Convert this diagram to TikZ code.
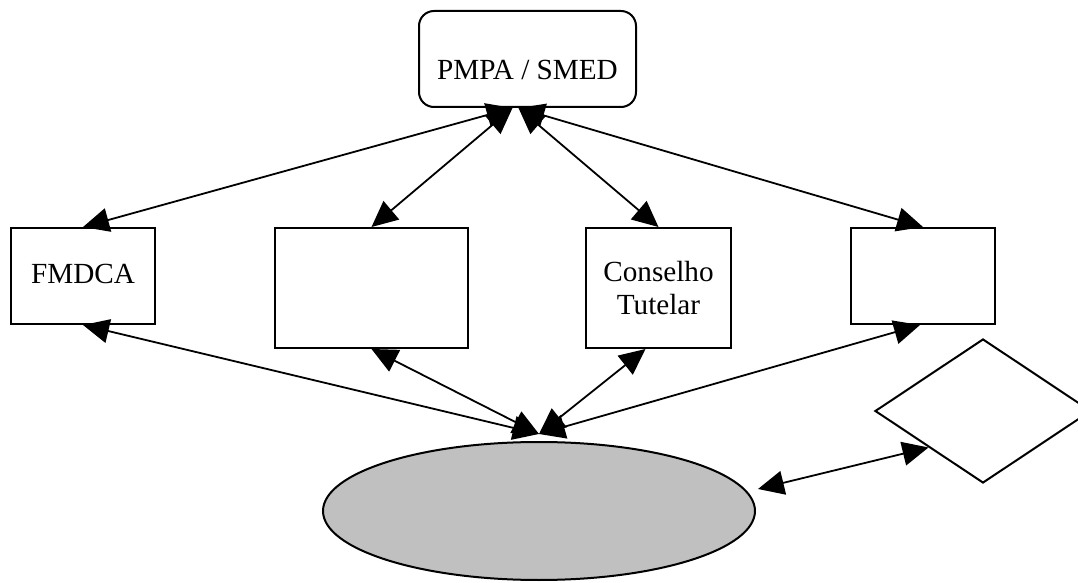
\documentclass[tikz,border=0pt]{standalone}
\usepackage{fontspec}
\setmainfont{Liberation Serif}
\usetikzlibrary{shapes.geometric, arrows.meta}
\definecolor{ellgray}{RGB}{192,192,192}
\tikzstyle{arrow} = [line width=0.9pt, {Triangle[length=13pt,width=12pt]}-{Triangle[length=13pt,width=12pt]}]
\tikzstyle{box} = [draw, line width=1pt, rectangle, inner sep=0pt]

\begin{document}
\begin{tikzpicture}[x=0.5pt, y=-0.5pt, every node/.style={font=\fontsize{14.6}{16.5}\selectfont}]
        \clip (0,0) rectangle (1078,583);

        \node at (527.5,59) [box, rounded corners=7.5pt, minimum width=108.5pt, minimum height=48pt, text height=21pt, text depth=0pt](pmpa) {PMPA / SMED};

        \node at (83,276) [box, minimum width=72pt, minimum height=48pt, text depth=2pt](fmdca) {FMDCA};
        \node at (371.5,288) [box, minimum width=96.5pt, minimum height=60pt](blank1) {};
        \node at (658.5,288) [box, minimum width=72.5pt, minimum height=60pt, align=center](conselho) {Conselho\\Tutelar};
        \node at (923,276) [box, minimum width=72pt, minimum height=48pt](blank2) {};

        \node at (539,511) [ellipse, draw, line width=1pt, fill=ellgray, minimum width=216pt, minimum height=69pt, inner sep=0pt](base) {};
        \node at (983,411) [diamond, draw, line width=1pt, minimum width=108pt, minimum height=72pt, inner sep=0pt](lozango) {};

        \coordinate (topl) at ([shift={(-15,0)}]pmpa.south);
        \coordinate (topr) at ([shift={(-9,0)}]pmpa.south);
        \coordinate (bot) at ([shift={(0,-7)}]base.north);

        \draw[arrow] (fmdca.north) -- (topl);
        \draw[arrow] (blank1.north) -- (topl);
        \draw[arrow] (conselho.north) -- (topr);
        \draw[arrow] (blank2.north) -- (topr);

        \draw[arrow] (fmdca.south) -- (bot);
        \draw[arrow] (blank1.south) -- (bot);
        \draw[arrow] ([shift={(-13,0)}]conselho.south) -- (bot);
        \draw[arrow] ([shift={(-3,0)}]blank2.south) -- (bot);

        \draw[arrow] ([shift={(2,-22)}]base.east) -- (lozango.south west);

    \end{tikzpicture}
\end{document}
